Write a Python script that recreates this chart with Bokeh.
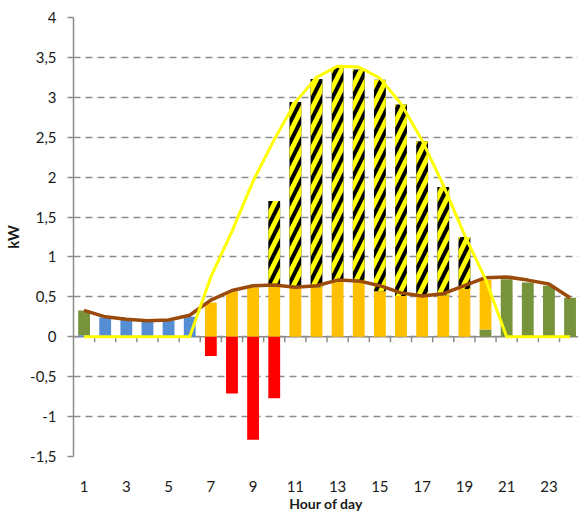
import numpy as np
from bokeh.plotting import figure
from bokeh.models import FixedTicker, Span, Range1d
from bokeh.embed import file_html
from bokeh.resources import INLINE

# ---------------- data ----------------
hours = list(range(1, 25))
battery = [0.02, 0.24, 0.21, 0.20, 0.20, 0.25, 0, 0, 0, 0, 0, 0,
           0, 0, 0, 0, 0, 0, 0, 0, 0, 0, 0, 0]
grid = [0.31, 0, 0, 0, 0, 0, 0, 0, 0, 0, 0, 0,
        0, 0, 0, 0, 0, 0, 0, 0.09, 0.72, 0.68, 0.64, 0.49]
self_use = [0, 0, 0, 0, 0, 0, 0.43, 0.57, 0.62, 0.63, 0.63, 0.62,
            0.69, 0.68, 0.57, 0.51, 0.50, 0.52, 0.60, 0.62, 0, 0, 0, 0]
export = [0, 0, 0, 0, 0, 0, 0, 0, 0, 1.07, 2.31, 2.61,
          2.68, 2.67, 2.65, 2.40, 1.95, 1.355, 0.65, 0, 0, 0, 0, 0]
charge = [0, 0, 0, 0, 0, 0, -0.24, -0.71, -1.29, -0.77, 0, 0,
          0, 0, 0, 0, 0, 0, 0, 0, 0, 0, 0, 0]
pv = [0, 0, 0, 0, 0, 0, 0.75, 1.32, 1.95, 2.47, 2.94, 3.25,
      3.39, 3.38, 3.24, 2.92, 2.46, 1.90, 1.28, 0.72, 0, 0, 0, 0]
load = [0.33, 0.25, 0.22, 0.20, 0.21, 0.27, 0.46, 0.58, 0.64, 0.65, 0.62, 0.64,
        0.71, 0.70, 0.64, 0.55, 0.51, 0.54, 0.64, 0.74, 0.75, 0.71, 0.66, 0.49]

y_ticks = [-1.5, -1, -0.5, 0, 0.5, 1, 1.5, 2, 2.5, 3, 3.5, 4]
y_tick_labels = ["-1,5", "-1", "-0,5", "0", "0,5", "1", "1,5", "2", "2,5", "3", "3,5", "4"]
x_ticks = [1, 3, 5, 7, 9, 11, 13, 15, 17, 19, 21, 23]

# ---------------- figure ----------------
FONT = "Lato"
GREY = "#8c8c8c"

p = figure(width=578, height=514, x_range=Range1d(0.5, 24.4), y_range=Range1d(-1.5, 4),
           output_backend="svg", toolbar_location=None,
           min_border_left=73, min_border_right=0, min_border_top=17, min_border_bottom=58)
p.outline_line_color = None
p.background_fill_color = "white"
p.border_fill_color = "white"

p.xgrid.visible = False
p.ygrid.ticker = FixedTicker(ticks=y_ticks)
p.ygrid.grid_line_color = GREY
p.ygrid.grid_line_dash = "7 5"
p.ygrid.grid_line_width = 1.5

yax = p.yaxis[0]
yax.ticker = FixedTicker(ticks=y_ticks)
yax.major_label_overrides = {t: l for t, l in zip(y_ticks, y_tick_labels)}
yax.axis_line_color = GREY
yax.axis_line_width = 1.5
yax.major_tick_line_color = GREY
yax.major_tick_line_width = 1.5
yax.major_tick_out = 6
yax.major_tick_in = 0
yax.minor_tick_line_color = None
yax.major_label_standoff = 11
yax.major_label_text_font = FONT
yax.major_label_text_font_size = "15px"
yax.major_label_text_color = "#1a1a1a"
yax.axis_label = "kW"
yax.axis_label_text_font = FONT
yax.axis_label_text_font_size = "15px"
yax.axis_label_text_font_style = "bold"
yax.axis_label_text_color = "#1a1a1a"
yax.axis_label_standoff = 5

xax = p.xaxis[0]
xax.ticker = FixedTicker(ticks=x_ticks)
xax.axis_line_color = None
xax.major_tick_line_color = None
xax.minor_tick_line_color = None
xax.major_label_standoff = 18
xax.major_label_text_font = FONT
xax.major_label_text_font_size = "15px"
xax.major_label_text_color = "#1a1a1a"
xax.axis_label = "Hour of day"
xax.axis_label_text_font = FONT
xax.axis_label_text_font_size = "14px"
xax.axis_label_text_font_style = "bold"
xax.axis_label_text_color = "#1a1a1a"
xax.axis_label_standoff = 0

# zero line with category boundary ticks
p.add_layout(Span(location=0, dimension="width", line_color=GREY, line_width=1.5, level="underlay"))
bounds = [h + 0.5 for h in hours[:-1]]
p.segment(x0=bounds, y0=[0] * len(bounds), x1=bounds, y1=[-0.07] * len(bounds),
          line_color=GREY, line_width=1.5)

# ---------------- stacked bars ----------------
W = 0.56
b0 = np.zeros(len(hours))
b1 = b0 + np.array(battery)
b2 = b1 + np.array(grid)
b3 = b2 + np.array(self_use)
b4 = b3 + np.array(export)

p.vbar(x=hours, bottom=b0, top=b1, width=W, fill_color="#558ED5", line_color=None)
p.vbar(x=hours, bottom=b1, top=b2, width=W, fill_color="#77933C", line_color=None)
p.vbar(x=hours, bottom=b2, top=b3, width=W, fill_color="#FFC000", line_color=None)
p.vbar(x=hours, bottom=b3, top=b4, width=W, fill_color="black", line_color=None,
       hatch_pattern="right_diagonal_line", hatch_color="#FFFF00",
       hatch_weight=5, hatch_scale=20)
p.vbar(x=hours, bottom=0, top=charge, width=W, fill_color="#FF0000", line_color=None)

# ---------------- lines ----------------
p.line(hours, load, line_color="#9A4B0B", line_width=3.5)
p.line(hours, pv, line_color="#FFFF00", line_width=3)

open("out.html", "w").write(file_html(p, INLINE))
